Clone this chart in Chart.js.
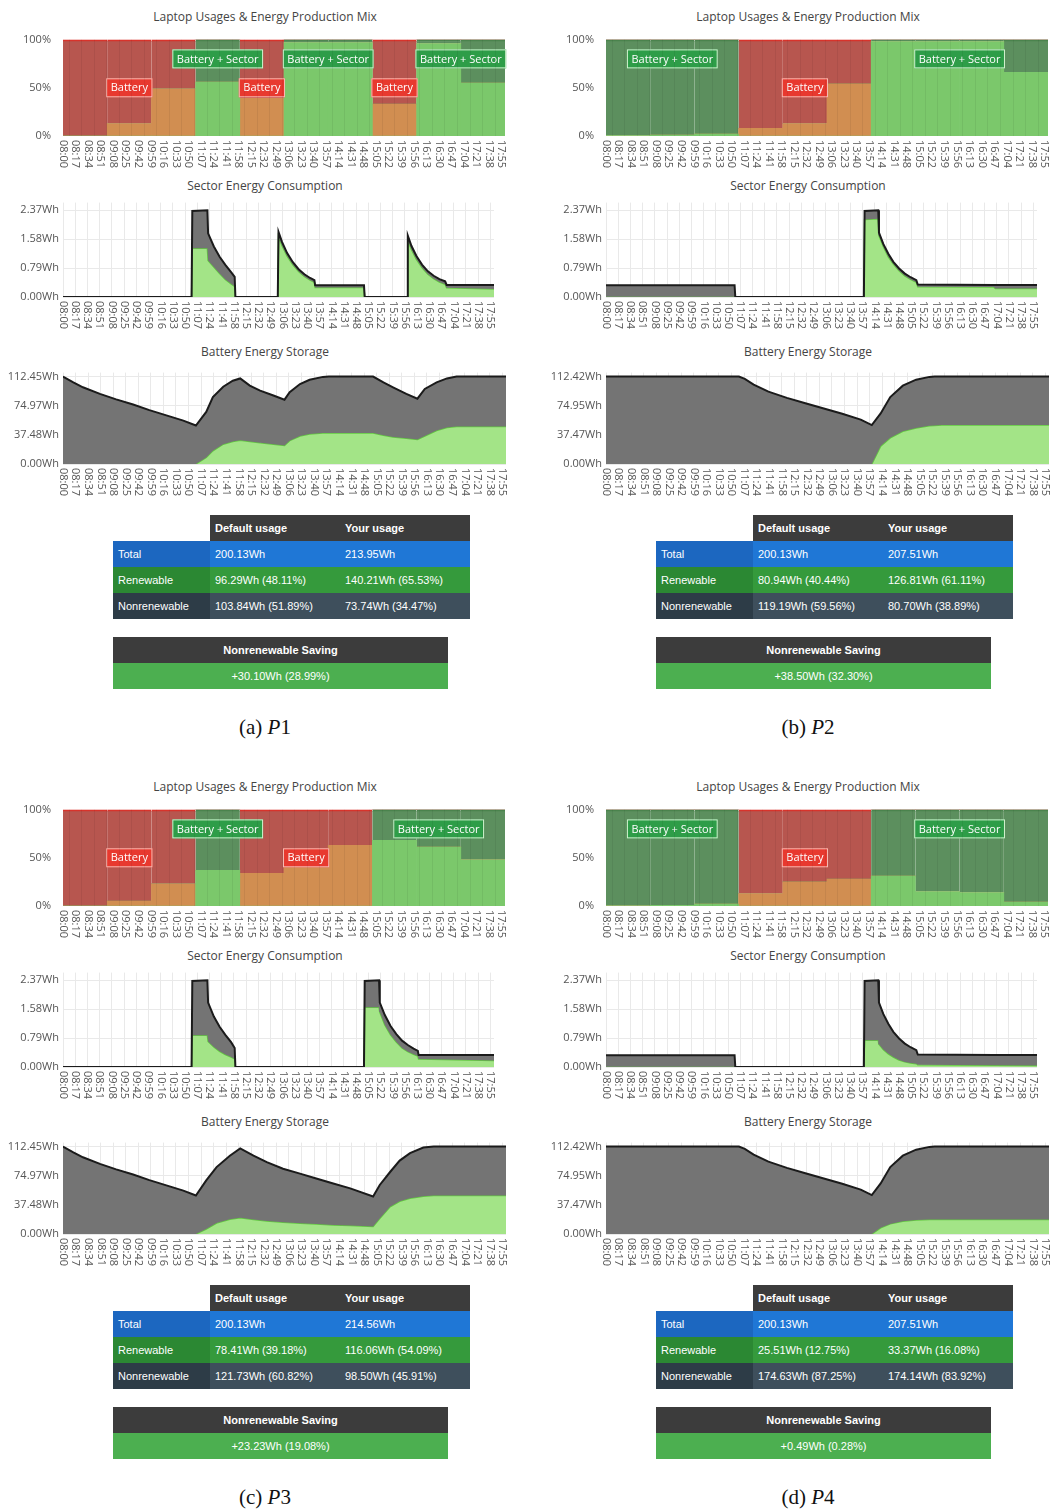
<!DOCTYPE html>
<html>
<head>
<meta charset="utf-8">
<script src="https://cdn.jsdelivr.net/npm/chart.js@4.4.1/dist/chart.umd.min.js"></script>
<style>
html, body { margin: 0; padding: 0; background: #fff; }
body { width: 1059px; height: 1510px; position: relative; overflow: hidden; font-family: "Open Sans", sans-serif; }
.panel { position: absolute; width: 530px; height: 770px; }
.panel canvas { position: absolute; left: 0; }
.ttl { position: absolute; left: 0; width: 530px; text-align: center; font-size: 12px; line-height: 16px; color: #444; }
table { position: absolute; border-collapse: collapse; font-family: "Liberation Sans", Arial, sans-serif; font-size: 11px; color: #fff; }
td, th { height: 26px; padding: 0 0 0 5px; text-align: left; white-space: nowrap; }
th { background: #3c3c3c; font-weight: bold; }
th.blank { background: transparent; }
tr.total td { background: #1f77d6; } tr.total td:first-child { background: #1c67c0; }
tr.renew td { background: #359a3c; } tr.renew td:first-child { background: #2b8833; }
tr.nonrenew td { background: #3e4f5c; } tr.nonrenew td:first-child { background: #2d3c47; }
table.saving th, table.saving td { text-align: center; padding: 0; }
table.saving td { background: #4caf50; }
.cap { position: absolute; left: 0; width: 530px; text-align: center; font-family: "Liberation Serif", "DejaVu Serif", serif; font-size: 21px; line-height: 28px; color: #111; }
</style>
</head>
<body>
<script>
// x axis tick labels (every 17 minutes from 08:00)
const tickLabels = ['08:00','08:17','08:34','08:51','09:08','09:25','09:42','09:59','10:16','10:33','10:50',
  '11:07','11:24','11:41','11:58','12:15','12:32','12:49','13:06','13:23','13:40','13:57','14:14','14:31',
  '14:48','15:05','15:22','15:39','15:56','16:13','16:30','16:47','17:04','17:21','17:38','17:55'];
const tickMinutes = tickLabels.map(s => +s.slice(0, 2) * 60 + +s.slice(3) - 480);

// hourly bars (minutes after 08:00 of each hour's middle)
const hourMid = [30, 90, 150, 210, 270, 330, 390, 450, 510, 570];

// mode per hour: B = battery, S = battery + sector ; renewable share in %
const p1Mode = ['B','B','B','S','B','S','S','B','S','S'];
const p1Share = [0, 13, 49, 56, 39, 97, 97, 33, 96, 55];
const p2Mode = ['S','S','S','B','B','B','S','S','S','S'];
const p2Share = [0.5, 1, 2, 8, 13, 54, 98, 98, 98, 66];
const p3Mode = ['B','B','B','S','B','B','B','S','S','S'];
const p3Share = [0, 5, 23, 37, 34, 48, 63, 68, 61, 48];
const p4Mode = ['S','S','S','B','B','B','S','S','S','S'];
const p4Share = [0.3, 0.8, 2, 13, 25, 28, 31, 15, 14, 4];

// sector energy consumption (Wh), x in minutes after 08:00
const sectorTicks = [0, 0.79, 1.58, 2.37];
const p1SecT =     [0, 179, 180, 201, 202, 210, 218, 226, 234, 239, 240, 299, 300, 305, 312, 320, 328, 336, 344, 350, 351, 419, 420, 479, 480, 485, 492, 500, 508, 516, 524, 532, 534, 600];
const p1SecTotal = [0, 0, 2.35, 2.37, 1.74, 1.38, 1.10, 0.88, 0.68, 0.55, 0, 0, 1.78, 1.50, 1.20, 0.95, 0.76, 0.62, 0.52, 0.46, 0.32, 0.32, 0, 0, 1.68, 1.40, 1.12, 0.88, 0.70, 0.58, 0.49, 0.43, 0.33, 0.33];
const p1SecRenew = [0, 0, 1.33, 1.33, 1.00, 0.82, 0.64, 0.48, 0.36, 0.29, 0, 0, 1.65, 1.40, 1.12, 0.88, 0.70, 0.56, 0.46, 0.40, 0.26, 0.26, 0, 0, 1.55, 1.30, 1.03, 0.80, 0.62, 0.50, 0.41, 0.35, 0.25, 0.22];
const p2SecT =     [0, 179, 180, 359, 360, 379, 380, 386, 393, 400, 408, 416, 424, 432, 434, 540, 542, 600];
const p2SecTotal = [0.32, 0.32, 0, 0, 2.35, 2.37, 1.76, 1.45, 1.18, 0.96, 0.78, 0.64, 0.54, 0.46, 0.34, 0.33, 0.33, 0.33];
const p2SecRenew = [0.01, 0.01, 0, 0, 2.12, 2.14, 1.68, 1.38, 1.10, 0.90, 0.72, 0.58, 0.48, 0.40, 0.28, 0.27, 0.23, 0.23];
const p3SecT =     [0, 179, 180, 201, 202, 210, 218, 226, 234, 239, 240, 419, 420, 440, 441, 448, 456, 464, 472, 480, 488, 494, 495, 600];
const p3SecTotal = [0, 0, 2.35, 2.37, 1.76, 1.38, 1.10, 0.88, 0.68, 0.52, 0, 0, 2.35, 2.37, 1.76, 1.42, 1.12, 0.90, 0.72, 0.60, 0.50, 0.44, 0.33, 0.33];
const p3SecRenew = [0, 0, 0.87, 0.87, 0.70, 0.55, 0.43, 0.34, 0.27, 0.22, 0, 0, 1.63, 1.63, 1.50, 1.15, 0.88, 0.68, 0.52, 0.42, 0.35, 0.30, 0.22, 0.18];
const p4SecT =     [0, 179, 180, 359, 360, 379, 380, 386, 393, 400, 408, 416, 424, 432, 434, 540, 600];
const p4SecTotal = [0.32, 0.32, 0, 0, 2.35, 2.37, 1.76, 1.45, 1.18, 0.96, 0.78, 0.64, 0.54, 0.46, 0.34, 0.33, 0.33];
const p4SecRenew = [0.005, 0.005, 0, 0, 0.73, 0.73, 0.62, 0.48, 0.36, 0.27, 0.19, 0.14, 0.11, 0.09, 0.06, 0.05, 0.04];

// battery energy storage (Wh)
const p1StoTicks = [0, 37.48, 74.97, 112.45];
const p2StoTicks = [0, 37.47, 74.95, 112.42];
const p1StoT =     [0, 14, 27, 50, 72, 95, 117, 140, 163, 180, 194, 203, 217, 230, 240, 253, 267, 285, 300, 307, 321, 334, 352, 360, 420, 434, 447, 465, 480, 490, 506, 520, 533, 600];
const p1StoTotal = [112.45, 104.9, 98.6, 90.2, 83.1, 76.4, 69.2, 62.5, 55.8, 49.5, 67, 86, 99.4, 107, 110, 100.7, 94.4, 88.1, 82.7, 92.3, 102.8, 108.3, 112, 112.45, 112.45, 104.9, 98.6, 90.2, 84, 96.5, 104.9, 110, 112.45, 112.45];
const p1StoRenew = [0, 0, 0, 0, 0, 0, 0, 0, 0, 0, 8.4, 17, 25.5, 29, 30.6, 29, 27.3, 25.5, 23.9, 30, 36, 38.5, 39.9, 39.9, 39.9, 37, 34.8, 33, 31.5, 36, 43, 47, 48.3, 48.3];
const p2StoT =     [0, 180, 188, 200, 220, 245, 270, 295, 320, 345, 360, 372, 385, 402, 420, 438, 445, 455, 600];
const p2StoTotal = [112.42, 112.42, 109.5, 102, 93, 85, 78, 71.3, 64.5, 57, 50, 65, 86, 100.7, 108.4, 112, 112.42, 112.42, 112.42];
const p2StoRenew = [0, 0, 0, 0, 0, 0, 0, 0, 0, 0, 0, 23, 33.6, 42, 46.2, 49.1, 49.6, 50, 50];
const p3StoT =     [0, 14, 27, 50, 72, 95, 117, 140, 163, 180, 194, 208, 226, 240, 258, 276, 298, 321, 343, 366, 389, 420, 429, 443, 456, 470, 488, 502, 600];
const p3StoTotal = [112.45, 104.9, 98.6, 90.2, 83.1, 76.4, 69.2, 62.5, 55.8, 49.5, 69, 86, 100.7, 110, 100.7, 92.3, 83.9, 77.6, 71.3, 65, 58.7, 48.3, 63, 79.7, 94.4, 104, 111.2, 112.45, 112.45];
const p3StoRenew = [0, 0, 0, 0, 0, 0, 0, 0, 0, 0, 6.3, 14, 19, 21, 18.5, 16.8, 15, 13.8, 12.8, 11.7, 10.8, 9.6, 20, 35, 42, 46, 48.5, 49.5, 49.5];
const p4StoT =     [0, 180, 188, 200, 220, 245, 270, 295, 320, 345, 360, 372, 385, 402, 420, 438, 445, 455, 600];
const p4StoTotal = [112.42, 112.42, 109.5, 102, 93, 85, 78, 71.3, 64.5, 57, 50, 65, 86, 100.7, 108.4, 112, 112.42, 112.42, 112.42];
const p4StoRenew = [0, 0, 0, 0, 0, 0, 0, 0, 0, 0, 0, 8, 13, 16.5, 18, 18.5, 18.5, 18.5, 18.5];

// tables
const tableHead = ['Default usage', 'Your usage'];
const p1Table = [['Total', '200.13Wh', '213.95Wh'], ['Renewable', '96.29Wh (48.11%)', '140.21Wh (65.53%)'], ['Nonrenewable', '103.84Wh (51.89%)', '73.74Wh (34.47%)']];
const p2Table = [['Total', '200.13Wh', '207.51Wh'], ['Renewable', '80.94Wh (40.44%)', '126.81Wh (61.11%)'], ['Nonrenewable', '119.19Wh (59.56%)', '80.70Wh (38.89%)']];
const p3Table = [['Total', '200.13Wh', '214.56Wh'], ['Renewable', '78.41Wh (39.18%)', '116.06Wh (54.09%)'], ['Nonrenewable', '121.73Wh (60.82%)', '98.50Wh (45.91%)']];
const p4Table = [['Total', '200.13Wh', '207.51Wh'], ['Renewable', '25.51Wh (12.75%)', '33.37Wh (16.08%)'], ['Nonrenewable', '174.63Wh (87.25%)', '174.14Wh (83.92%)']];
const savings = ['+30.10Wh (28.99%)', '+38.50Wh (32.30%)', '+23.23Wh (19.08%)', '+0.49Wh (0.28%)'];

const panels = [
  { pos: [0, 0], cap: 'a', n: '1', mode: p1Mode, share: p1Share, secT: p1SecT, secTotal: p1SecTotal, secRenew: p1SecRenew, stoTicks: p1StoTicks, stoT: p1StoT, stoTotal: p1StoTotal, stoRenew: p1StoRenew, table: p1Table },
  { pos: [543, 0], cap: 'b', n: '2', mode: p2Mode, share: p2Share, secT: p2SecT, secTotal: p2SecTotal, secRenew: p2SecRenew, stoTicks: p2StoTicks, stoT: p2StoT, stoTotal: p2StoTotal, stoRenew: p2StoRenew, table: p2Table },
  { pos: [0, 770], cap: 'c', n: '3', mode: p3Mode, share: p3Share, secT: p3SecT, secTotal: p3SecTotal, secRenew: p3SecRenew, stoTicks: p1StoTicks, stoT: p3StoT, stoTotal: p3StoTotal, stoRenew: p3StoRenew, table: p3Table },
  { pos: [543, 770], cap: 'd', n: '4', mode: p4Mode, share: p4Share, secT: p4SecT, secTotal: p4SecTotal, secRenew: p4SecRenew, stoTicks: p2StoTicks, stoT: p4StoT, stoTotal: p4StoTotal, stoRenew: p4StoRenew, table: p4Table }
];

Chart.defaults.font.family = '"Open Sans", sans-serif';
Chart.defaults.font.size = 11;
Chart.defaults.color = '#555';

// time labels drawn rotated clockwise under each plot
const xLabels = {
  id: 'xLabels',
  afterDraw(chart) {
    const xs = chart.scales.x, ctx = chart.ctx, y0 = chart.chartArea.bottom + 4;
    ctx.save();
    ctx.font = '11px "Open Sans", sans-serif';
    ctx.fillStyle = '#555';
    ctx.textAlign = 'left';
    ctx.textBaseline = 'middle';
    tickLabels.forEach((lab, i) => {
      ctx.save();
      ctx.translate(xs.getPixelForValue(tickMinutes[i]), y0);
      ctx.rotate(Math.PI / 2);
      ctx.fillText(lab, 0, 0);
      ctx.restore();
    });
    ctx.restore();
  }
};

// "Battery" / "Battery + Sector" boxes
const notes = {
  id: 'notes',
  afterDatasetsDraw(chart, args, opts) {
    const { x, y } = chart.scales, ctx = chart.ctx;
    ctx.save();
    ctx.font = '11px "Open Sans", sans-serif';
    ctx.textAlign = 'center';
    ctx.textBaseline = 'middle';
    (opts.items || []).forEach(n => {
      const px = x.getPixelForValue(n.x), py = y.getPixelForValue(n.y);
      const w = ctx.measureText(n.text).width + 9, h = 19;
      ctx.fillStyle = n.bg;
      ctx.fillRect(px - w / 2, py - h / 2, w, h);
      ctx.strokeStyle = n.border;
      ctx.lineWidth = 1;
      ctx.strokeRect(px - w / 2 + 0.5, py - h / 2 + 0.5, w - 1, h - 1);
      ctx.fillStyle = '#fff';
      ctx.fillText(n.text, px, py + 0.5);
    });
    ctx.restore();
  }
};

function timeAxis(xHeight) {
  return {
    type: 'linear', min: 0, max: 600, offset: false,
    afterBuildTicks: s => { s.ticks = tickMinutes.map(v => ({ value: v })); },
    afterFit: s => { s.height = xHeight; },
    ticks: { display: false },
    grid: { color: '#e9e9e9', drawTicks: false },
    border: { display: false }
  };
}

function mixChart(cv, p) {
  const pick = (m, renew) => p.share.map((v, i) => ({ x: hourMid[i], y: p.mode[i] === m ? (renew ? v : 100 - v) : 0 }));
  const items = [];
  let start = 0;
  for (let i = 1; i <= p.mode.length; i++) {
    if (i === p.mode.length || p.mode[i] !== p.mode[start]) {
      const bat = p.mode[start] === 'B';
      items.push({ x: (start + i) * 30, y: bat ? 50 : 80, text: bat ? 'Battery' : 'Battery + Sector',
        bg: bat ? '#e8392f' : '#2e9d48', border: bat ? '#f6bdb5' : '#d3f2d0' });
      start = i;
    }
  }
  const bar = { barThickness: 'flex', barPercentage: 1, categoryPercentage: 1, borderWidth: 0 };
  new Chart(cv, {
    type: 'bar',
    data: {
      datasets: [
        Object.assign({ data: pick('S', true), backgroundColor: '#7bc86b' }, bar),
        Object.assign({ data: pick('B', true), backgroundColor: '#d18e51' }, bar),
        Object.assign({ data: pick('S', false), backgroundColor: '#5c8f5e' }, bar,
          { borderWidth: { top: 2, left: 0, right: 0, bottom: 0 }, borderColor: '#4a834d', borderSkipped: false }),
        Object.assign({ data: pick('B', false), backgroundColor: '#b7564f' }, bar,
          { borderWidth: { top: 2, left: 0, right: 0, bottom: 0 }, borderColor: '#d8332b', borderSkipped: false })
      ]
    },
    options: {
      responsive: false, animation: false,
      layout: { padding: { top: 8, right: 25, left: 0, bottom: 0 } },
      scales: {
        x: Object.assign(timeAxis(40), { stacked: true, grid: { color: 'rgba(0,0,0,0.06)', drawTicks: false, z: 1 } }),
        y: {
          stacked: true, min: 0, max: 100,
          afterFit: s => { s.width = 63; },
          ticks: { stepSize: 50, padding: 4, callback: v => v + '%' },
          grid: { display: false }, border: { display: false }
        }
      },
      plugins: { legend: { display: false }, tooltip: { enabled: false }, notes: { items } }
    },
    plugins: [xLabels, notes]
  });
}

function areaChart(cv, t, total, renew, yTicks, yMax, xHeight, rightPad) {
  const pts = arr => arr.map((v, i) => ({ x: t[i], y: v }));
  new Chart(cv, {
    type: 'line',
    data: {
      datasets: [
        { data: pts(total), borderColor: '#1b1b1b', borderWidth: 2, backgroundColor: '#747474', fill: 1, pointRadius: 0, tension: 0 },
        { data: pts(renew), borderColor: '#62c940', borderWidth: 1.5, backgroundColor: '#a3e487', fill: 'origin', pointRadius: 0, tension: 0 }
      ]
    },
    options: {
      responsive: false, animation: false,
      layout: { padding: { top: 8, right: rightPad, left: 0, bottom: 0 } },
      scales: {
        x: timeAxis(xHeight),
        y: {
          min: 0, max: yMax,
          afterFit: s => { s.width = 63; },
          afterBuildTicks: s => { s.ticks = yTicks.map(v => ({ value: v })); },
          ticks: { padding: 4, callback: v => v.toFixed(2) + 'Wh' },
          grid: { color: '#e9e9e9', drawTicks: false }, border: { display: false }
        }
      },
      plugins: { legend: { display: false }, tooltip: { enabled: false } }
    },
    plugins: [xLabels]
  });
}

panels.forEach((p, k) => {
  const d = document.createElement('div');
  d.className = 'panel';
  d.style.left = p.pos[0] + 'px';
  d.style.top = p.pos[1] + 'px';
  const rows = p.table.map((r, i) => '<tr class="' + ['total', 'renew', 'nonrenew'][i] + '">' +
    '<td style="width:92px">' + r[0] + '</td><td style="width:125px">' + r[1] + '</td><td style="width:125px">' + r[2] + '</td></tr>').join('');
  d.innerHTML =
    '<div class="ttl" style="top:9px">Laptop Usages &amp; Energy Production Mix</div>' +
    '<canvas class="c1" width="530" height="147" style="top:29px"></canvas>' +
    '<div class="ttl" style="top:178px">Sector Energy Consumption</div>' +
    '<canvas class="c2" width="530" height="140" style="top:192px"></canvas>' +
    '<div class="ttl" style="top:344px">Battery Energy Storage</div>' +
    '<canvas class="c3" width="530" height="140" style="top:362px"></canvas>' +
    '<table style="left:113px;top:515px"><tr><th class="blank" style="width:92px"></th><th>' + tableHead[0] + '</th><th>' + tableHead[1] + '</th></tr>' + rows + '</table>' +
    '<table class="saving" style="left:113px;top:637px;width:335px"><tr><th>Nonrenewable Saving</th></tr><tr><td>' + savings[k] + '</td></tr></table>' +
    '<div class="cap" style="top:713px">(' + p.cap + ') <i>P</i>' + p.n + '</div>';
  document.body.appendChild(d);
  mixChart(d.querySelector('.c1'), p);
  areaChart(d.querySelector('.c2'), p.secT, p.secTotal, p.secRenew, sectorTicks, 2.58, 35, 36);
  areaChart(d.querySelector('.c3'), p.stoT, p.stoTotal, p.stoRenew, p.stoTicks, 117.5, 38, 24);
});
</script>
</body>
</html>
